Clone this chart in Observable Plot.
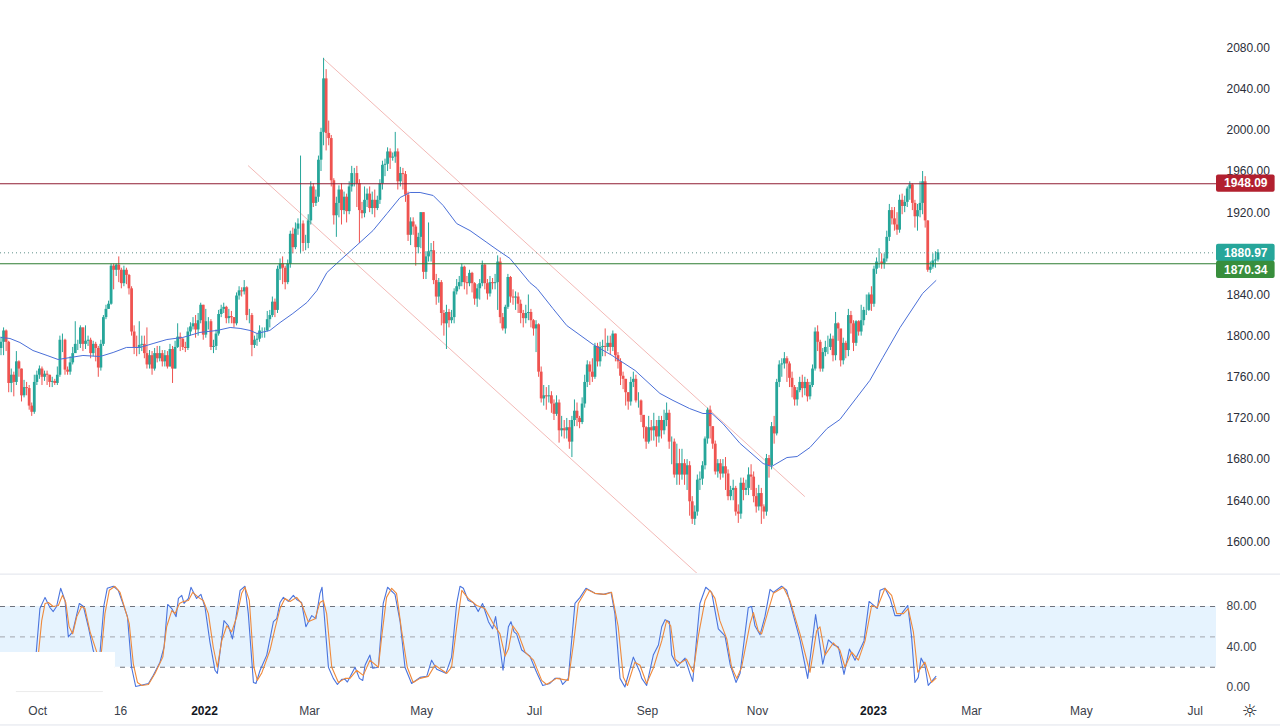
<!DOCTYPE html>
<html>
<head>
<meta charset="utf-8">
<script src="https://cdn.jsdelivr.net/npm/d3@7"></script>
<script src="https://cdn.jsdelivr.net/npm/@observablehq/plot@0.6"></script>
<style>
html,body{margin:0;padding:0;background:#fff;overflow:hidden}
svg{display:block}
</style>
</head>
<body>
<div id="chart"></div>
<script>
const closes = [1794,1805,1794,1754,1762,1755,1775,1768,1742,1750,1749,1732,1726,1755,1762,1768,1760,1763,1762,1755,1756,1754,1762,1796,1796,1767,1765,1774,1783,1792,1792,1808,1792,1795,1796,1783,1792,1788,1769,1792,1818,1826,1831,1868,1864,1869,1864,1851,1864,1859,1846,1804,1789,1788,1791,1792,1783,1772,1781,1768,1783,1778,1783,1775,1781,1770,1787,1768,1789,1799,1797,1789,1788,1804,1809,1812,1806,1815,1830,1801,1814,1814,1789,1790,1802,1821,1826,1828,1817,1819,1818,1812,1839,1844,1843,1847,1820,1820,1791,1796,1797,1805,1805,1805,1816,
1820,1833,1825,1865,1870,1866,1852,1870,1899,1886,1904,1909,1909,1890,1890,1912,1945,1929,1935,1971,1998,2050,1997,1992,1951,1917,1929,1942,1922,1935,1921,1945,1958,1958,1948,1922,1919,1932,1938,1924,1932,1924,1932,1948,1966,1967,1979,1973,1974,1979,1950,1958,1957,1937,1898,1911,1906,1886,1896,1920,1862,1877,1882,1883,1854,1838,1852,1822,1812,1823,1815,1818,1843,1848,1852,1867,1852,1851,1861,1851,1836,1846,1851,1869,1851,1841,1852,1851,1852,1872,1818,1807,1828,1857,1838,1837,1838,1831,1822,1817,1822,1823,1815,1807,1811,1765,
1739,1742,1741,1742,1734,1724,1735,1708,1710,1708,1711,1697,1718,1727,1720,1716,1734,1755,1772,1765,1760,1790,1775,1789,1790,1789,1793,1789,1802,1781,1775,1761,1758,1745,1736,1755,1758,1737,1737,1723,1711,1697,1711,1708,1712,1702,1718,1708,1718,1725,1697,1697,1665,1676,1665,1676,1665,1674,1639,1622,1629,1660,1661,1674,1700,1728,1712,1695,1668,1676,1666,1673,1666,1644,1650,1652,1629,1627,1657,1650,1652,1665,1663,1644,1634,1647,1634,1629,1681,1674,1712,1705,1755,1772,1773,1778,1773,1759,1750,1738,1747,1755,1749,1755,1741,1752,1768,1804,1794,1768,1784,1789,1789,1797,1781,1812,1807,1776,1793,1786,1820,1812,1793,1814,1804,1815,1825,1825,1840,1831,1865,1872,1872,1870,1875,1896,1922,1914,1908,1903,1932,1926,1930,1943,1947,1929,1916,1922,1929,1950,1912,1864,1867,1873,1874,1880.97];

const opens = [1788,1794,1805,1794,1754,1762,1755,1775,1768,1742,1750,1749,1732,1726,1755,1762,1768,1760,1763,1762,1755,1756,1754,1762,1796,1796,1767,1765,1774,1783,1792,1792,1808,1792,1795,1796,1783,1792,1788,1769,1792,1818,1826,1831,1868,1864,1869,1864,1851,1864,1859,1846,1804,1789,1788,1791,1792,1783,1772,1781,1768,1783,1778,1783,1775,1781,1770,1787,1768,1789,1799,1797,1789,1788,1804,1809,1812,1806,1815,1830,1801,1814,1814,1789,1790,1802,1821,1826,1828,1817,1819,1818,1812,1839,1844,1843,1847,1820,1820,1791,1796,1797,1805,1805,1805,
1816,1820,1833,1825,1865,1870,1866,1852,1870,1899,1886,1904,1909,1909,1890,1890,1912,1945,1929,1935,1971,1998,2050,1997,1992,1951,1917,1929,1942,1922,1935,1921,1945,1958,1958,1948,1922,1919,1932,1938,1924,1932,1924,1932,1948,1966,1967,1979,1973,1974,1979,1950,1958,1957,1937,1898,1911,1906,1886,1896,1920,1862,1877,1882,1883,1854,1838,1852,1822,1812,1823,1815,1818,1843,1848,1852,1867,1852,1851,1861,1851,1836,1846,1851,1869,1851,1841,1852,1851,1852,1872,1818,1807,1828,1857,1838,1837,1838,1831,1822,1817,1822,1823,1815,1807,1811,
1765,1739,1742,1741,1742,1734,1724,1735,1708,1710,1708,1711,1697,1718,1727,1720,1716,1734,1755,1772,1765,1760,1790,1775,1789,1790,1789,1793,1789,1802,1781,1775,1761,1758,1745,1736,1755,1758,1737,1737,1723,1711,1697,1711,1708,1712,1702,1718,1708,1718,1725,1697,1697,1665,1676,1665,1676,1665,1674,1639,1622,1629,1660,1661,1674,1700,1728,1712,1695,1668,1676,1666,1673,1666,1644,1650,1652,1629,1627,1657,1650,1652,1665,1663,1644,1634,1647,1634,1629,1681,1674,1712,1705,1755,1772,1773,1778,1773,1759,1750,1738,1747,1755,1749,1755,1741,1752,1768,1804,1794,1768,1784,1789,1789,1797,1781,1812,1807,1776,1793,1786,1820,1812,1793,1814,1804,1815,1825,1825,1840,1831,1865,1872,1872,1870,1875,1896,1922,1914,1908,1903,1932,1926,1930,1943,1947,1929,1916,1922,1929,1950,1912,1864,1867,1873,1874];

const highs = [1799,1808,1806,1795,1768,1765,1785,1776,1768,1757,1755,1752,1735,1762,1766,1771,1770,1766,1766,1762,1760,1758,1770,1800,1802,1797,1770,1780,1789,1814,1796,1810,1808,1810,1800,1798,1795,1794,1790,1796,1820,1830,1834,1870,1870,1870,1877,1866,1868,1866,1860,1848,1810,1800,1814,1800,1800,1808,1786,1785,1788,1790,1790,1786,1786,1785,1792,1790,1795,1812,1803,1798,1794,1808,1813,1818,1820,1822,1832,1830,1826,1818,1816,1796,1806,1825,1830,1832,1829,1826,1824,1818,1842,1848,1847,1854,1848,1826,1822,1800,1802,1810,1808,1808,1824,
1825,1838,1836,1868,1875,1877,1868,1874,1902,1905,1910,1914,1975,1912,1898,1918,1950,1948,1942,1975,2002,2070,2059,2009,1995,1953,1935,1946,1948,1940,1938,1950,1965,1963,1965,1952,1930,1945,1943,1945,1940,1942,1936,1952,1970,1972,1983,1982,1978,1998,1982,1964,1963,1960,1940,1915,1915,1908,1900,1920,1920,1882,1910,1890,1892,1860,1856,1854,1825,1830,1826,1825,1846,1855,1858,1870,1868,1858,1864,1862,1852,1850,1855,1873,1870,1855,1858,1856,1860,1878,1876,1822,1830,1860,1858,1845,1843,1842,1835,1825,1830,1840,1826,1816,1815,1812,
1770,1752,1750,1752,1746,1738,1742,1738,1722,1718,1720,1718,1722,1738,1735,1722,1740,1762,1776,1775,1778,1793,1793,1794,1796,1807,1800,1800,1805,1802,1784,1778,1765,1758,1745,1760,1765,1762,1745,1738,1722,1712,1722,1718,1725,1718,1722,1722,1728,1735,1728,1702,1700,1695,1690,1690,1680,1680,1678,1644,1635,1665,1668,1678,1702,1730,1732,1712,1698,1680,1680,1680,1682,1670,1654,1660,1654,1636,1662,1662,1660,1672,1675,1668,1652,1655,1652,1636,1685,1684,1716,1722,1758,1776,1778,1784,1780,1775,1765,1752,1750,1760,1762,1760,1758,1755,1772,1808,1810,1796,1788,1795,1800,1802,1800,1823,1813,1806,1798,1795,1826,1824,1815,1815,1815,1830,1828,1840,1842,1848,1868,1876,1885,1880,1880,1902,1928,1925,1925,1920,1937,1938,1936,1945,1950,1948,1932,1928,1950,1960,1955,1912,1872,1880,1882,1884];

const lows = [1781,1781,1785,1745,1745,1741,1752,1760,1736,1740,1742,1728,1722,1724,1752,1758,1752,1756,1752,1750,1750,1752,1752,1760,1784,1762,1762,1762,1772,1785,1786,1788,1785,1787,1790,1778,1780,1775,1760,1766,1790,1816,1826,1830,1845,1858,1852,1846,1848,1850,1840,1800,1782,1780,1782,1785,1778,1768,1768,1762,1766,1774,1775,1770,1770,1768,1770,1754,1768,1788,1785,1786,1784,1786,1800,1806,1798,1800,1812,1796,1798,1806,1786,1783,1786,1800,1818,1822,1812,1812,1812,1808,1810,1835,1838,1840,1815,1812,1780,1788,1790,1794,1798,1798,1804,
1808,1818,1818,1822,1854,1850,1845,1850,1866,1880,1884,1898,1880,1882,1883,1885,1908,1925,1926,1930,1960,1985,1980,1985,1945,1908,1896,1915,1908,1918,1910,1918,1940,1945,1925,1890,1914,1915,1925,1920,1918,1915,1922,1928,1942,1955,1960,1962,1970,1968,1942,1945,1942,1930,1892,1888,1898,1868,1880,1885,1855,1855,1872,1872,1850,1830,1832,1810,1800,1787,1808,1812,1812,1840,1845,1848,1845,1840,1848,1842,1830,1828,1835,1848,1845,1835,1838,1845,1845,1825,1812,1805,1802,1826,1832,1830,1825,1822,1812,1808,1812,1815,1808,1800,1784,1760,
1735,1732,1728,1735,1725,1718,1722,1696,1702,1700,1700,1690,1682,1712,1712,1710,1714,1730,1750,1752,1755,1758,1770,1770,1780,1780,1785,1782,1785,1775,1768,1752,1748,1732,1728,1732,1750,1735,1730,1716,1700,1690,1695,1698,1698,1692,1696,1700,1704,1712,1690,1675,1662,1655,1655,1660,1655,1650,1625,1617,1616,1625,1650,1655,1670,1695,1700,1690,1665,1662,1660,1662,1650,1640,1640,1640,1625,1618,1622,1640,1645,1645,1650,1638,1628,1630,1617,1622,1625,1662,1670,1695,1703,1750,1760,1768,1755,1750,1740,1732,1732,1745,1740,1742,1736,1738,1750,1766,1785,1765,1765,1780,1782,1786,1775,1776,1795,1770,1772,1778,1780,1802,1785,1790,1800,1800,1810,1820,1824,1824,1828,1860,1866,1865,1865,1872,1892,1908,1902,1898,1900,1918,1920,1925,1932,1922,1905,1902,1915,1918,1905,1862,1861,1865,1866,1872];

const maBars = [0,3.5,7.4,12.5,18,22.3,27,32,38.7,43.8,49,54.3,59.4,64.8,71,77.7,84.4,89.5,93.4,97.3,100,105,109,114,119.5,123.4,127.3,132.4,140.2,145.3,150.8,155.9,159.8,163.7,168.8,172.7,178,183.2,189.8,193.75,198.8,206.6,209.4,215.6,221,231.3,238.7,247.7,257.4,262.5,269,274.2,277.7,282,288.7,297.7,301,307,311,316,322.7,327.7,339.4,344.5,351.2,360,365.2];
const maValues = [1798.7,1797.7,1793.8,1786,1781.2,1777.3,1779.2,1781.2,1780.2,1784.1,1789,1789,1792.8,1796.7,1798.7,1803.6,1805.5,1808.4,1807.5,1805.5,1802.6,1805.5,1813.2,1822,1832.7,1844.3,1861.8,1873.5,1891,1902.6,1919.2,1934.7,1939.6,1939.6,1936.7,1927,1909.4,1902.6,1891,1884,1875.5,1852,1846.3,1826.8,1810.3,1791.8,1781.2,1766.6,1744.3,1737.5,1729.6,1724.8,1724.8,1715,1695.7,1676.2,1673.3,1682,1683,1691.8,1710.3,1719,1757,1779.4,1808.4,1841.5,1854];

const channelBarsA = [125.8,96.5];
const channelPriceA = [2070,1965.8];
const channelBarsB = [314,271.9];
const channelPriceB = [1644,1569.4];

const levelPrices = [1948.09,1870.34];
const levelColors = ["#8f1d33","#2e7d32"];
const lastPrice = 1880.97;
const priceLabels = ["1948.09","1880.97","1870.34"];
const priceLabelLevels = [1948.3,1880.9,1864.3];
const priceLabelColors = ["#b2202f","#26a69a","#388e3c"];
const priceTicks = [1600,1640,1680,1720,1760,1800,1840,1880,1920,1960,2000,2040,2080];

const kBars = [10,11.3,13.7,15.2,17.2,19.1,20.4,21.7,23.3,25,26.3,28,30.6,32.2,34.1,36,37.4,38.7,40.2,41.5,43.9,45.8,49.4,51,52.6,54.3,57.6,59.5,62.1,63.7,65.1,66.7,68.4,69.3,70.6,71.5,73.2,74.2,76.4,78.1,79.7,81.6,83.6,84.5,87.1,88.8,90.4,91.4,93.4,95.3,96.6,98.6,99.6,101.2,103.8,106.4,107.7,109,110.3,112.2,114.2,115.5,117.4,119.1,121.4,123,124.6,
125.4,127.9,129.8,131.4,133.1,134.4,135.3,138.3,140,141.3,142.2,144.1,145.2,147.4,149.3,151,153.9,155.9,157.8,160.4,163.7,166.3,168.2,170.2,173.8,176,178,179.3,180.6,182.5,184.5,186.4,188.1,190.4,192,193.2,194.9,196.1,198.2,199.2,200.4,201.4,203.4,206.6,209.2,211.6,214.4,216.4,218.4,219.4,221.6,224.2,226.2,228.5,232,235.3,238.3,239.8,241.8,243.7,247,249.6,
250.3,252.2,254.8,256.8,258.1,259.4,261.1,262,264.2,267.2,269.1,270.2,273,275.3,277.6,280.2,282.8,284.8,287.1,288.7,291.9,293.2,294.5,296.5,298.4,300.4,301.7,304.9,306.9,312.1,315.1,318.2,321,323.2,325.4,327.1,329.3,331.4,333.6,337.1,339.1,342.3,343.4,345.3,347.3,349.2,351.2,354.2,355.7,357,358.3,359.4,360.9,362.2,365.2];
const kValues = [5,7,33,78,89,79,75,80,98,86,50,55,83,80,60,37,25,35,81,98,100,96,70,20,1,2,4,12,25,40,82,78,70,88,91,83,88,99,88,92,79,45,17,14,66,61,48,63,96,100,73,5,4,17,32,65,68,84,89,85,91,87,84,60,71,68,93,
99,20,9,3,8,8,5.4,20,9,7,22,32,19,20,83,99,92,65,20,4,10,11,27,18,14,30,83,100,98,86,84,75,83,65,58,70,40,17,60,65,55,53,37,31,15,2,4,9,9,3,9,83,89,98,93,92,94,73,9,0.5,30,15,
9,2,32,42,60,67,65,32,21,29,14,6,83,99,94,58,51,23,5,14,79,80,61,52,70,97,94,100,96,47,9,72,23,47,42,40,13,38,27,46,85,78,96,98,88,71,71,81,50,5,10,29,22,2,11];

const dBars = [12.6,14.6,15.9,17.2,18.5,20.4,22.4,24,25.3,26.6,28,29.6,31.5,32.8,34.8,37.4,38.4,39.3,40.6,42.3,44.5,46.5,50.1,51.7,53.3,55,57.6,60.2,63.2,64.7,66.7,68,69.7,71.2,73.2,74.9,77.1,79,81,82.9,84.5,86.2,88.2,90.1,92.1,94,95.3,97,98.8,100.1,101.8,105.1,107,109,110.9,112.9,115.5,117.4,120,122.7,124.6,
125.9,127.2,129.2,131.8,134.4,136.3,138.9,141.5,144.1,147.4,148.7,150.6,152.6,154.5,156.5,158.7,161,163.7,166.9,169.5,174.1,176,178,180,182.5,185.8,189,192.3,194.9,196.9,198.2,199.9,202.1,204.7,208,211.2,213.1,217,221.6,223.6,225.5,228.8,232,236,238.5,241.1,243.1,244.7,247.6,249.6,
252.2,254.8,258.1,260,261.6,263.3,265.2,267.8,270.4,272.4,275,276.9,278.9,280.8,283.5,285.4,287.4,289.3,292.6,293.9,295.8,297.1,299.7,301.7,305.6,308.2,312.1,316,318.6,319.9,321.9,325.1,327.7,329.7,332.3,334.9,337.5,340.1,342.3,345.3,347.9,349.9,352.5,354.4,356.4,358.1,360.9,363.5,365.2];
const dValues = [17,33,66,83,84,80,81,91,84,60,53,70,80,78,55,35,25,37,73,96,100,94,63,23,5,2,3,14,30,60,76,73,83,85,86,94,89,86,73,40,20,46,61,55,70,93,99,86,20,7,14,37,58,78,88,85,89,83,65,68,84,
86,73,20,5,9,9,17,12,27,20,50,89,98,93,56,20,5,9,11,22,14,20,60,96,88,81,78,63,53,31,38,61,53,35,27,7,3,9,7,43,83,97,93,92,94,60,10,2,25,22,
4,19,46,66,61,28,24,28,15,51,86,96,88,66,48,20,9,20,63,74,56,53,76,93,99,86,53,15,56,60,32,44,37,20,35,27,46,81,79,98,91,73,73,78,55,15,25,5,9];

const oscTicks = [0,40,80];
const oscLevels = [80,50,20];
const oscLevelColors = ["#6f727c","#a3a5ad","#6f727c"];
const timeLabels = ["Oct","16","Mar","May","Jul","Sep","Nov","Mar","May","Jul"];
const timeBars = [14.3,46.7,120.5,164.3,208.4,252.5,295.5,379.1,422,466.5];
const yearLabels = ["2022","2023"];
const yearBars = [79.5,340.8];

const FONT = "'Liberation Sans', Arial, sans-serif";
const TEAL = "#26a69a", RED = "#ef5350";
const xDomain = [-0.2, 474.8];
const frameEnd = xDomain[1];
const pageEnd = 499.8;
const labelEnd = 497.7;

const bars = closes.map((c, i) => ({i, o: opens[i], h: highs[i], l: lows[i], c}));
const up = bars.filter(d => d.c >= d.o);
const down = bars.filter(d => d.c < d.o);
const ma = maBars.map((b, i) => ({b, v: maValues[i]}));
const k = kBars.map((b, i) => ({b, v: kValues[i]}));
const d_ = dBars.map((b, i) => ({b, v: dValues[i]}));
const channels = channelBarsA.map((b, i) => ({x1: b, y1: channelPriceA[i], x2: channelBarsB[i], y2: channelPriceB[i]}));
const labels = priceLabels.map((t, i) => ({t, p: priceLabelLevels[i], c: priceLabelColors[i]}));

const pricePlot = Plot.plot({
  width: 1280, height: 573,
  marginTop: 0, marginBottom: 0, marginLeft: 0, marginRight: 64,
  style: {fontFamily: FONT, fontSize: "12px", background: "#fff", color: "#131722"},
  x: {axis: null, domain: xDomain},
  y: {domain: [1569.3, 2126.2]},
  marks: [
    Plot.link(channels, {x1: "x1", y1: "y1", x2: "x2", y2: "y2", stroke: "#f3b9b6", strokeWidth: 1}),
    Plot.ruleX(up, {x: "i", y1: "l", y2: "h", stroke: TEAL, strokeWidth: 1}),
    Plot.ruleX(down, {x: "i", y1: "l", y2: "h", stroke: RED, strokeWidth: 1}),
    Plot.ruleX(up, {x: "i", y1: "o", y2: "c", stroke: TEAL, strokeWidth: 2.8}),
    Plot.ruleX(down, {x: "i", y1: "o", y2: "c", stroke: RED, strokeWidth: 2.8}),
    Plot.line(ma, {x: "b", y: "v", stroke: "#4a6fd8", strokeWidth: 1}),
    Plot.ruleY(levelPrices, {stroke: (d, i) => levelColors[i], strokeWidth: 1}),
    Plot.ruleY([lastPrice], {stroke: "#5f8f8a", strokeWidth: 1, strokeDasharray: "1,3"}),
    Plot.axisY({anchor: "right", ticks: priceTicks, tickFormat: d3.format(".2f"), tickSize: 0, tickPadding: 10, label: null, fontSize: 12, fill: "#2a2e39"}),
    Plot.rect(labels, {x1: () => frameEnd, x2: () => labelEnd, y1: d => d.p - 8.4, y2: d => d.p + 8.4, fill: d => d.c, rx: 2}),
    Plot.text(labels, {x: () => (frameEnd + labelEnd) / 2, y: "p", text: "t", fill: "#fff", fontWeight: 700, fontSize: 12})
  ]
});

const oscPlot = Plot.plot({
  width: 1280, height: 155,
  marginTop: 0, marginBottom: 0, marginLeft: 0, marginRight: 64,
  style: {fontFamily: FONT, fontSize: "12px", background: "#fff", color: "#131722"},
  x: {axis: null, domain: xDomain},
  y: {domain: [-40.5, 112.6]},
  marks: [
    Plot.rect([0], {x1: xDomain[0], x2: frameEnd, y1: oscLevels[2], y2: oscLevels[0], fill: "#e6f3fe"}),
    Plot.ruleY(oscLevels, {stroke: (d, i) => oscLevelColors[i], strokeDasharray: "5,5", strokeWidth: 1}),
    Plot.line(k, {x: "b", y: "v", stroke: "#4a74de", strokeWidth: 1.1}),
    Plot.line(d_, {x: "b", y: "v", stroke: "#ef8a3c", strokeWidth: 1.1}),
    Plot.rect([0], {x1: xDomain[0], x2: 44.7, y1: -5, y2: 34.6, fill: "#fff"}),
    Plot.ruleY([-4], {x1: 6, x2: 40, stroke: "#ececec"}),
    Plot.ruleY([112, -37], {x1: xDomain[0], x2: pageEnd, stroke: "#e0e3eb", strokeWidth: 1}),
    Plot.axisY({anchor: "right", ticks: oscTicks, tickFormat: d3.format(".2f"), tickSize: 0, tickPadding: 10, label: null, fontSize: 12, fill: "#3a3e49"}),
    Plot.text(timeLabels, {x: (d, i) => timeBars[i], y: () => -23.7, text: d => d, fill: "#3a3e49", fontSize: 12}),
    Plot.text(yearLabels, {x: (d, i) => yearBars[i], y: () => -23.7, text: d => d, fill: "#131722", fontSize: 12, fontWeight: 700}),
    Plot.text(["\u263C"], {x: () => 487.7, y: () => -23.7, text: d => d, fill: "#131722", fontSize: 18, fontFamily: "'DejaVu Sans'"})
  ]
});

const host = document.getElementById("chart");
host.append(pricePlot, oscPlot);
</script>
</body>
</html>
